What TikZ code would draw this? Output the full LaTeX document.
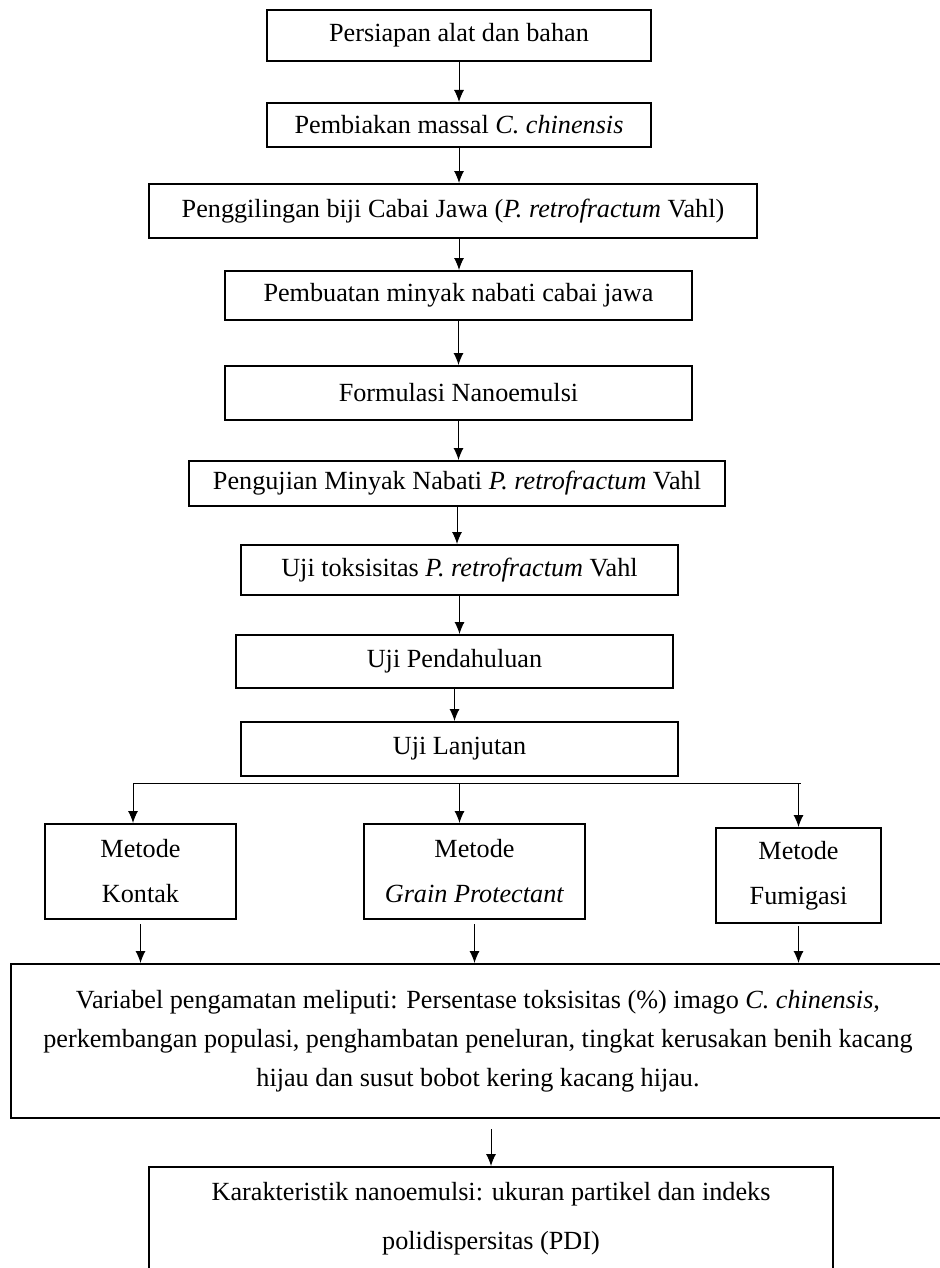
\documentclass[tikz,border=0pt]{standalone}
\usepackage{fontspec}
\setmainfont{Liberation Serif}
\usetikzlibrary{arrows.meta}

\begin{document}
\begin{tikzpicture}[x=0.5pt,y=-0.5pt,>={Latex[length=6pt,width=5pt]},
  kotak/.style={draw, line width=1pt, inner sep=0pt, align=center,
    font=\fontsize{13.1}{19.5}\selectfont},
  panah/.style={->, line width=0.5pt}]

  \useasboundingbox (0,0) rectangle (939,1268);

  % alur utama
  \node[kotak, minimum width=192pt, minimum height=25.5pt] (persiapan) at (459,35.5) {Persiapan alat dan bahan};
  \node[kotak, minimum width=192pt, minimum height=22pt] (pembiakan) at (459,125) {Pembiakan massal \textit{C. chinensis}};
  \node[kotak, minimum width=304pt, minimum height=27pt] (penggilingan) at (453,211) {Penggilingan biji Cabai Jawa (\textit{P. retrofractum} Vahl)};
  \node[kotak, minimum width=233.5pt, minimum height=24.5pt] (pembuatan) at (458.5,295.5) {Pembuatan minyak nabati cabai jawa};
  \node[kotak, minimum width=233.5pt, minimum height=27pt] (formulasi) at (458.5,393) {Formulasi Nanoemulsi};
  \node[kotak, minimum width=268pt, minimum height=22.5pt] (pengujian) at (457,483.5) {Pengujian Minyak Nabati \textit{P. retrofractum} Vahl};
  \node[kotak, minimum width=218.5pt, minimum height=25pt] (toksisitas) at (459.5,570) {Uji toksisitas \textit{P. retrofractum} Vahl};
  \node[kotak, minimum width=218.5pt, minimum height=26.5pt] (pendahuluan) at (454.5,661.5) {Uji Pendahuluan};
  \node[kotak, minimum width=218.5pt, minimum height=27pt] (lanjutan) at (459.5,749) {Uji Lanjutan};

  \draw[panah] (persiapan.south) -- (persiapan.south |- pembiakan.north);
  \draw[panah] (pembiakan.south) -- (pembiakan.south |- penggilingan.north);
  \draw[panah] (pembiakan.south |- penggilingan.south) -- (pembiakan.south |- pembuatan.north);
  \draw[panah] (pembuatan.south) -- (pembuatan.south |- formulasi.north);
  \draw[panah] (formulasi.south) -- (formulasi.south |- pengujian.north);
  \draw[panah] (pengujian.south) -- (pengujian.south |- toksisitas.north);
  \draw[panah] (toksisitas.south) -- (toksisitas.south |- pendahuluan.north);
  \draw[panah] (pendahuluan.south) -- (pendahuluan.south |- lanjutan.north);

  % metode
  \node[kotak, minimum width=95.5pt, minimum height=47.5pt, font=\fontsize{13.1}{22.5}\selectfont] (kontak) at (140.5,871.5) {Metode\\Kontak};
  \node[kotak, minimum width=110.5pt, minimum height=47.5pt, font=\fontsize{13.1}{22.5}\selectfont] (grain) at (474.5,871.5) {Metode\\\textit{Grain Protectant}};
  \node[kotak, minimum width=82.5pt, minimum height=47.5pt, font=\fontsize{13.1}{22.5}\selectfont] (fumigasi) at (798.5,875.5) {Metode\\Fumigasi};

  \coordinate (cabang1) at (133,783);
  \coordinate (cabang3) at (801,783);
  \draw[line width=0.5pt] (cabang1) -- (cabang3);
  \draw[panah] (cabang1) -- (cabang1 |- kontak.north);
  \draw[panah] (lanjutan.south |- cabang1) -- (lanjutan.south |- grain.north);
  \draw[panah] (fumigasi.north |- cabang1) -- (fumigasi.north);

  % hasil
  \node[kotak, minimum width=467pt, minimum height=77pt] (variabel) at (478,1041) {Variabel pengamatan meliputi: Persentase toksisitas (\%) imago \textit{C. chinensis},\\
    perkembangan populasi, penghambatan peneluran, tingkat kerusakan benih kacang\\
    hijau dan susut bobot kering kacang hijau.};
  \node[kotak, minimum width=342pt, minimum height=51.5pt, font=\fontsize{13.1}{24.5}\selectfont] (karakteristik) at (491,1218.5) {Karakteristik nanoemulsi: ukuran partikel dan indeks\\
    polidispersitas (PDI)};

  \draw[panah] ([yshift=-2pt]kontak.south) -- (kontak.south |- variabel.north);
  \draw[panah] ([yshift=-2pt]grain.south) -- (grain.south |- variabel.north);
  \draw[panah] ([yshift=-1pt]fumigasi.south) -- (fumigasi.south |- variabel.north);
  \draw[panah] ([yshift=-5pt]variabel.south -| karakteristik.north) -- (karakteristik.north);
\end{tikzpicture}
\end{document}
